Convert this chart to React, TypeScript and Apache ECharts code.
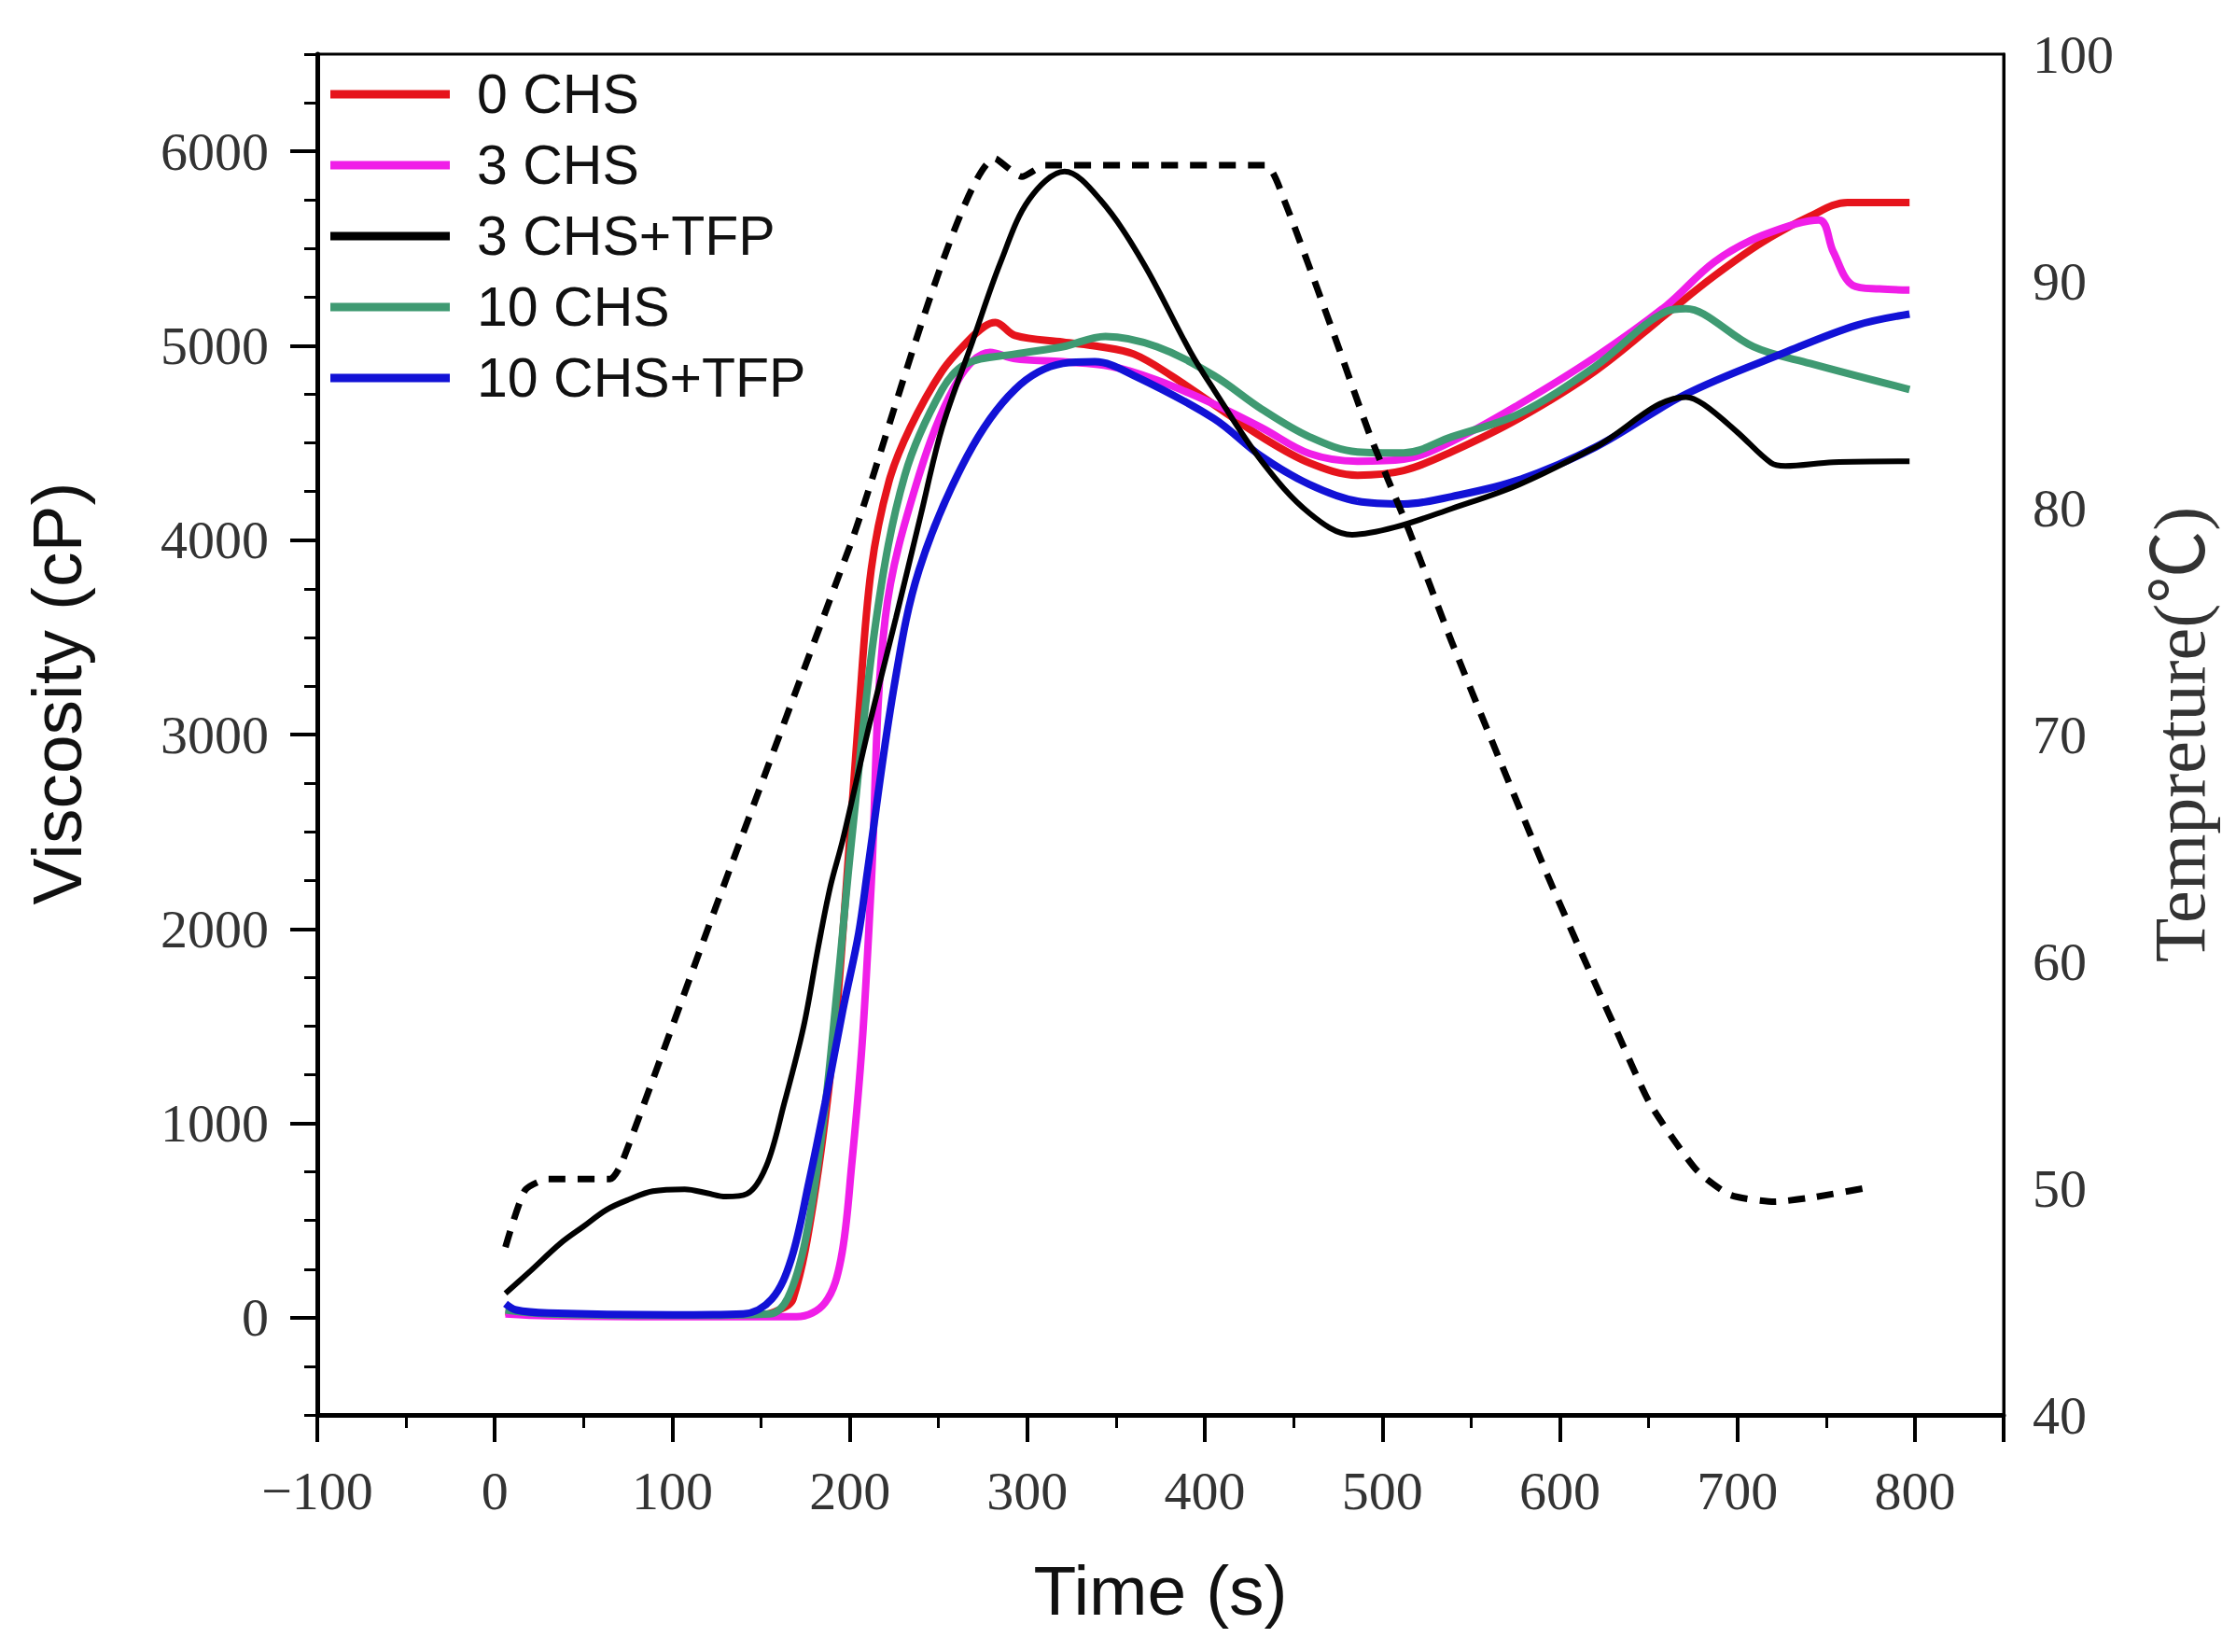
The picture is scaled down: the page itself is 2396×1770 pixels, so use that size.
import React, { useEffect, useRef } from "react";
import * as echarts from "echarts";

// time (s), viscosity (cP)
const chs0 = [
	[6, 30], [30, 15], [100, 10], [150, 15], [160, 40], [168, 96], [180, 623], [191, 1418], [198, 2217],
	[205, 3100], [212, 3846], [222, 4300], [234, 4578], [252, 4870], [266, 5019], [276, 5100], [282, 5120],
	[293, 5053], [320, 5019], [341, 4995], [360, 4957], [381, 4847], [405, 4698], [432, 4531], [459, 4397],
	[486, 4334], [512, 4358], [539, 4454], [577, 4626], [620, 4870], [660, 5163], [687, 5359], [714, 5532],
	[741, 5666], [762, 5737], [797, 5737],
];
const chs3 = [
	[6, 20], [30, 10], [100, 5], [170, 5], [186, 77], [195, 302], [201, 781], [207, 1418], [212, 2217],
	[220, 3601], [239, 4334], [261, 4823], [279, 4966], [293, 4933], [320, 4918], [347, 4894], [373, 4823],
	[405, 4700], [432, 4578], [459, 4445], [486, 4406], [512, 4416], [539, 4507], [577, 4698], [620, 4942],
	[660, 5206], [687, 5431], [714, 5567], [746, 5647], [754, 5484], [765, 5311], [780, 5292], [797, 5287],
];
const chs3Tfp = [
	[6, 125], [20, 240], [37, 383], [50, 470], [63, 556], [76, 610], [89, 651], [107, 661], [120, 640],
	[130, 623], [142, 637], [153, 781], [163, 1101], [174, 1499], [182, 1897], [189, 2217], [196, 2457],
	[211, 3050], [226, 3601], [240, 4130], [252, 4578], [269, 5019], [285, 5431], [301, 5752], [321, 5896],
	[341, 5752], [365, 5431], [392, 4966], [405, 4775], [432, 4406], [459, 4138], [483, 4028], [507, 4066],
	[539, 4162], [577, 4286], [620, 4478], [671, 4736], [681, 4698], [700, 4555], [719, 4397], [727, 4382],
	[754, 4401], [797, 4406],
];
const chs10 = [
	[6, 40], [30, 20], [100, 12], [155, 20], [165, 100], [175, 400], [185, 1000], [193, 1700], [201, 2457],
	[215, 3601], [231, 4334], [252, 4775], [266, 4909], [293, 4957], [320, 4995], [344, 5048], [373, 4995],
	[405, 4847], [432, 4674], [459, 4531], [486, 4454], [512, 4449], [539, 4531], [577, 4650], [620, 4894],
	[660, 5177], [671, 5191], [681, 5163], [709, 4995], [741, 4909], [797, 4775],
];
const chs10Tfp = [
	[6, 72], [12, 40], [30, 24], [100, 15], [140, 20], [156, 96], [167, 302], [177, 699], [186, 1101],
	[196, 1580], [205, 1978], [210, 2300], [225, 3250], [239, 3846], [266, 4430], [293, 4775], [320, 4909],
	[338, 4918], [360, 4847], [405, 4626], [432, 4430], [459, 4286], [486, 4200], [512, 4186], [539, 4224],
	[577, 4310], [620, 4478], [671, 4751], [727, 4966], [767, 5105], [797, 5163],
];
// time (s), temperature (°C)
const temperature = [
	[6, 47.4], [17, 49.9], [30, 50.4], [65, 50.4], [72, 51.2], [125, 62.5], [200, 78.3], [282, 95.4],
	[297, 94.6], [310, 95.1], [434, 95.1], [445, 93.5], [472, 87.8], [493, 83.2], [515, 79.0], [539, 74.1],
	[566, 68.9], [593, 63.8], [612, 60.4], [631, 57.1], [651, 53.7], [677, 50.8], [696, 49.7], [721, 49.4],
	[743, 49.6], [772, 50.0],
];

const seriesNames = ["0 CHS", "3 CHS", "3 CHS+TFP", "10 CHS", "10 CHS+TFP"];
const seriesColors = ["#e6141c", "#f01ee8", "#000000", "#3f9a72", "#1212d6"];
const seriesData = [chs0, chs3, chs3Tfp, chs10, chs10Tfp];
const viscosityTicks = [0, 1000, 2000, 3000, 4000, 5000, 6000];

const serif = "'Liberation Serif', 'Times New Roman', serif";
const sans = "'Liberation Sans', Arial, sans-serif";

const App = () => {
	const chartRef = useRef(null);

	useEffect(() => {
		if (!chartRef.current) return;
		const chart = echarts.init(chartRef.current, null, { renderer: "svg" });

		const option = {
			animation: false,
			backgroundColor: "#ffffff",
			grid: {
				left: 340,
				right: 249,
				top: 58,
				bottom: 254,
				show: true,
				borderColor: "#000",
				borderWidth: 3,
				containLabel: false,
				outerBoundsMode: "none",
			},
			legend: {
				data: seriesNames,
				orient: "vertical",
				left: 349,
				top: 66,
				icon: "rect",
				itemWidth: 128,
				itemHeight: 9,
				itemGap: 16,
				selectedMode: false,
				textStyle: {
					fontFamily: sans,
					fontSize: 59,
					lineHeight: 60,
					color: "#111",
					padding: [0, 0, 0, 24],
				},
			},
			xAxis: {
				type: "value",
				min: -100,
				max: 850,
				interval: 100,
				name: "Time (s)",
				nameLocation: "middle",
				nameGap: 150,
				nameTextStyle: { fontFamily: sans, fontSize: 75, color: "#111" },
				axisLine: { show: true, onZero: false, lineStyle: { color: "#000", width: 5 } },
				axisTick: { show: true, length: 29, lineStyle: { color: "#000", width: 4 } },
				minorTick: { show: true, splitNumber: 2, length: 14, lineStyle: { color: "#000", width: 3 } },
				axisLabel: {
					margin: 52,
					fontFamily: serif,
					fontSize: 58,
					color: "#333",
					formatter: (v) => (v % 100 === 0 ? (v < 0 ? "\u2212" + Math.abs(v) : String(v)) : ""),
				},
				splitLine: { show: false },
				minorSplitLine: { show: false },
			},
			yAxis: [
				{
					type: "value",
					position: "left",
					min: -500,
					max: 6500,
					interval: 500,
					name: "Viscosity (cP)",
					nameLocation: "middle",
					nameRotate: 90,
					nameGap: 242,
					nameTextStyle: { fontFamily: sans, fontSize: 75, color: "#111", padding: [0, 0, 0, 88] },
					axisLine: { show: true, onZero: false, lineStyle: { color: "#000", width: 5 } },
					axisTick: {
						show: true,
						length: 29,
						customValues: viscosityTicks,
						lineStyle: { color: "#000", width: 4 },
					},
					axisLabel: {
						margin: 52,
						fontFamily: serif,
						fontSize: 58,
						color: "#333",
						customValues: viscosityTicks,
						formatter: (v) => String(v),
					},
					splitLine: { show: false },
				},
				{
					type: "value",
					position: "right",
					min: 40,
					max: 100,
					interval: 10,
					name: "Tempreture(\u2103)",
					nameLocation: "middle",
					nameRotate: 90,
					nameGap: 149,
					nameTextStyle: {
						fontFamily: "'Liberation Serif', 'Noto Sans CJK SC', serif",
						fontSize: 78,
						color: "#333",
					},
					axisLine: { show: true, onZero: false, lineStyle: { color: "#000", width: 3 } },
					axisTick: { show: false },
					axisLabel: { margin: 31, fontFamily: serif, fontSize: 58, color: "#333" },
					splitLine: { show: false },
				},
				{
					type: "value",
					position: "left",
					min: -500,
					max: 6500,
					interval: 250,
					axisLine: { show: false, onZero: false },
					axisTick: { show: true, length: 14, lineStyle: { color: "#000", width: 3 } },
					axisLabel: { show: false },
					splitLine: { show: false },
				},
			],
			series: [
				...seriesNames.map((name, i) => ({
					name,
					type: "line",
					xAxisIndex: 0,
					yAxisIndex: 0,
					data: seriesData[i],
					showSymbol: false,
					smooth: 0.35,
					color: seriesColors[i],
					lineStyle: { color: seriesColors[i], width: i === 2 ? 6 : 8 },
					z: i === 2 ? 3 : 2,
				})),
				{
					name: "Temperature",
					type: "line",
					xAxisIndex: 0,
					yAxisIndex: 1,
					data: temperature,
					showSymbol: false,
					smooth: 0.2,
					color: "#000",
					lineStyle: { color: "#000", width: 7, type: [18, 13] },
					z: 4,
				},
			],
		};

		chart.setOption(option);

		const handleResize = () => chart.resize();
		window.addEventListener("resize", handleResize);

		return () => {
			window.removeEventListener("resize", handleResize);
			chart.dispose();
		};
	}, []);

	return (
		<div
			ref={chartRef}
			style={{
				position: "fixed",
				left: 0,
				top: 0,
				width: "2396px",
				height: "1770px",
				background: "#fff",
			}}
		/>
	);
};

export default App;
